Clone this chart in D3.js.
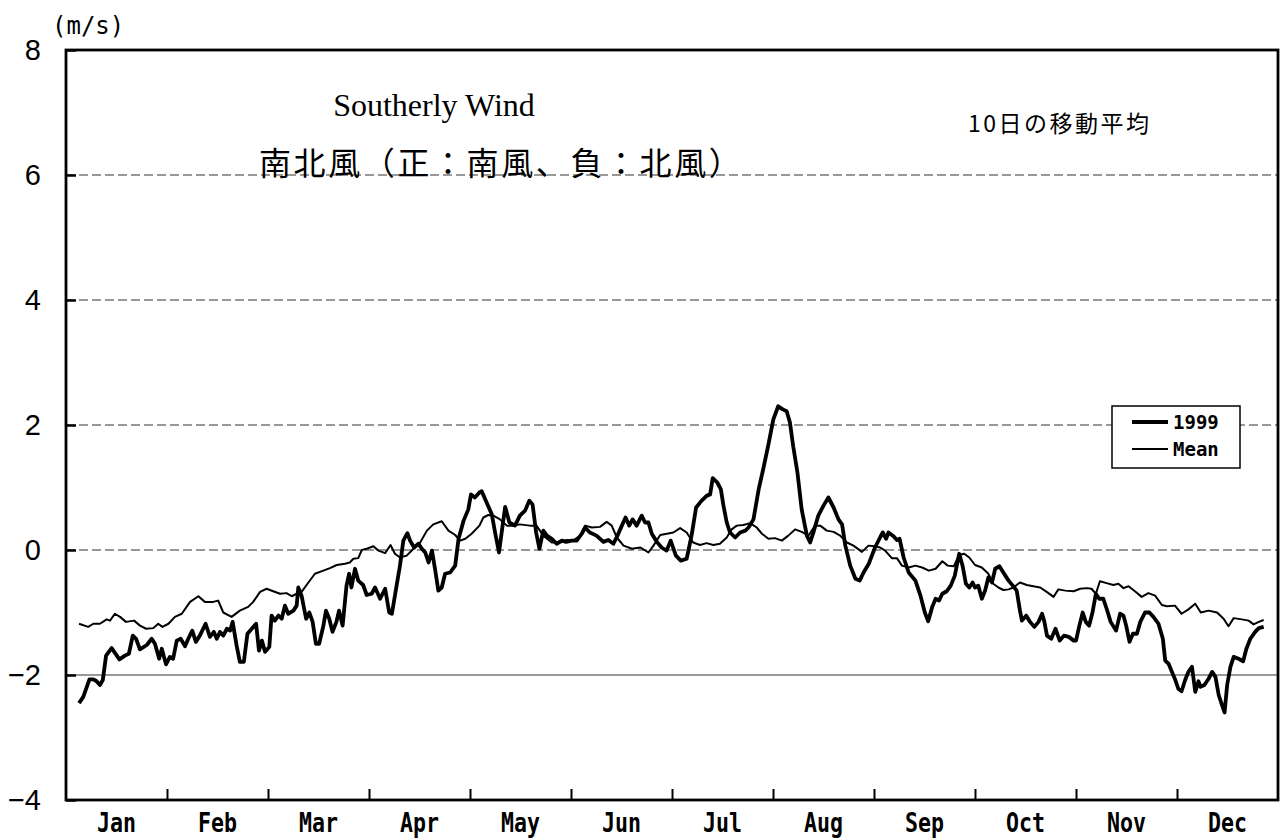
<!DOCTYPE html>
<html>
<head>
<meta charset="utf-8">
<script src="https://cdn.jsdelivr.net/npm/d3@7"></script>
<style>
  body { margin: 0; background: #fff; }
  svg { display: block; }
</style>
</head>
<body>
<div id="chart"></div>
<script>
// Southerly wind, 10-day running mean: 1999 vs. climatological mean
const months = ['Jan', 'Feb', 'Mar', 'Apr', 'May', 'Jun', 'Jul', 'Aug', 'Sep', 'Oct', 'Nov', 'Dec'];
const monthStarts = [0, 31, 59, 90, 120, 151, 181, 212, 243, 273, 304, 334, 365];
const yTicks = [-4, -2, 0, 2, 4, 6, 8];
const dashedLevels = [0, 2, 4, 6];
const solidLevels = [-2];

const days1999 = [4.0,5.3,7.2,8.4,9.4,10.4,11.3,12.3,14.0,16.4,18.1,19.3,20.5,21.5,22.7,24.8,26.3,27.3,28.6,29.4,30.7,31.8,32.7,33.7,34.8,36.0,36.9,38.0,39.0,40.1,41.7,42.9,44.0,44.8,45.7,46.6,47.6,48.5,49.2,50.3,51.2,52.3,53.3,54.5,55.7,56.5,57.3,58.2,59.4,60.1,61.1,62.2,63.2,64.2,65.2,66.8,67.8,68.3,69.3,70.7,71.7,72.7,73.7,74.7,76.0,76.8,77.8,78.8,80.0,80.8,81.9,83.1,83.9,84.6,85.7,86.7,88.2,89.3,90.8,91.8,93.3,94.8,96.0,96.8,98.2,99.2,100.2,101.4,102.2,103.4,104.7,105.7,106.7,107.7,108.7,109.6,110.6,111.6,112.6,114.1,115.6,116.6,118.1,119.5,120.3,121.5,122.9,123.6,125.1,126.7,127.7,128.9,130.0,130.8,132.1,133.8,135.3,136.9,138.2,139.2,140.3,141.3,142.5,143.6,145.1,146.6,148.2,149.5,151.2,152.7,154.2,155.2,156.6,158.6,160.6,162.1,163.6,164.8,166.1,167.2,168.3,169.3,170.5,172.0,173.0,174.0,175.0,176.5,177.9,179.4,180.6,182.2,183.7,185.5,187.0,188.4,190.1,191.7,192.7,193.5,194.9,196.0,196.8,197.8,198.8,200.4,201.9,203.5,204.5,206.0,207.6,209.1,210.6,212.1,213.6,215.0,216.2,217.2,218.2,219.5,220.8,222.4,223.4,224.4,225.9,227.5,229.0,230.6,232.1,233.2,234.2,235.7,237.3,238.6,239.8,241.4,243.3,244.8,245.6,246.6,247.3,248.8,249.8,250.6,251.8,253.3,255.3,256.8,258.1,259.1,260.3,261.3,262.3,263.3,264.6,265.8,267.0,268.3,269.3,270.3,271.3,272.3,273.0,274.0,275.1,276.1,277.1,278.2,279.2,280.5,281.7,283.3,284.6,285.8,286.8,287.4,288.7,289.9,291.2,292.5,293.6,294.3,295.1,296.4,297.7,299.0,300.3,301.8,303.3,304.0,305.0,306.0,306.9,307.9,308.9,309.9,310.9,312.1,313.1,314.3,315.9,317.1,318.1,318.9,319.9,320.9,322.1,323.1,324.5,325.8,327.0,328.5,329.8,330.5,331.5,332.5,333.5,334.4,335.4,336.5,337.5,338.6,339.6,340.6,341.2,342.4,343.7,344.8,345.8,346.8,347.8,348.6,349.4,350.4,351.4,352.9,354.3,355.3,356.5,358.0,359.1,360.6];
const wind1999 = [-2.45,-2.35,-2.07,-2.07,-2.10,-2.16,-2.08,-1.69,-1.57,-1.75,-1.69,-1.66,-1.37,-1.42,-1.59,-1.52,-1.42,-1.50,-1.74,-1.58,-1.83,-1.71,-1.74,-1.45,-1.42,-1.54,-1.42,-1.29,-1.47,-1.37,-1.18,-1.39,-1.31,-1.42,-1.31,-1.37,-1.26,-1.29,-1.15,-1.53,-1.79,-1.79,-1.34,-1.26,-1.18,-1.61,-1.45,-1.63,-1.55,-1.05,-1.13,-1.05,-1.10,-0.89,-1.02,-0.97,-0.89,-0.60,-0.73,-1.10,-1.00,-1.15,-1.50,-1.50,-1.21,-0.97,-1.10,-1.31,-1.15,-0.97,-1.21,-0.57,-0.38,-0.60,-0.30,-0.49,-0.56,-0.72,-0.70,-0.60,-0.78,-0.62,-1.00,-1.02,-0.57,-0.25,0.15,0.27,0.15,0.04,0.10,0.02,-0.04,-0.20,-0.01,-0.30,-0.65,-0.60,-0.38,-0.36,-0.25,0.18,0.47,0.65,0.89,0.84,0.92,0.94,0.76,0.57,0.28,-0.04,0.39,0.69,0.44,0.39,0.55,0.63,0.79,0.73,0.28,0.02,0.31,0.23,0.18,0.10,0.15,0.13,0.15,0.15,0.26,0.36,0.28,0.23,0.13,0.16,0.10,0.23,0.39,0.52,0.39,0.49,0.39,0.55,0.44,0.44,0.26,0.13,0.04,-0.01,0.15,-0.09,-0.17,-0.14,0.23,0.68,0.79,0.87,0.89,1.15,1.08,0.97,0.71,0.44,0.28,0.20,0.28,0.31,0.36,0.49,0.97,1.32,1.69,2.09,2.30,2.25,2.22,2.04,1.66,1.24,0.65,0.23,0.12,0.28,0.55,0.71,0.84,0.68,0.49,0.41,0.07,-0.25,-0.46,-0.49,-0.36,-0.22,0.04,0.20,0.28,0.18,0.28,0.22,0.16,0.18,-0.12,-0.36,-0.49,-0.73,-1.00,-1.14,-0.91,-0.78,-0.81,-0.70,-0.66,-0.57,-0.41,-0.06,-0.25,-0.54,-0.60,-0.52,-0.60,-0.57,-0.78,-0.65,-0.44,-0.52,-0.30,-0.26,-0.36,-0.49,-0.57,-0.65,-0.97,-1.13,-1.05,-1.15,-1.23,-1.15,-1.02,-1.15,-1.37,-1.42,-1.26,-1.45,-1.37,-1.39,-1.45,-1.45,-1.21,-1.00,-1.15,-1.21,-1.00,-0.70,-0.78,-0.78,-0.94,-1.15,-1.29,-1.02,-1.05,-1.21,-1.47,-1.34,-1.34,-1.15,-1.00,-1.00,-1.07,-1.18,-1.42,-1.77,-1.82,-1.95,-2.08,-2.22,-2.26,-2.08,-1.95,-1.87,-2.27,-2.10,-2.19,-2.16,-2.06,-1.95,-2.03,-2.32,-2.48,-2.60,-2.16,-1.87,-1.71,-1.74,-1.78,-1.58,-1.42,-1.31,-1.25,-1.23];

const daysMean = [4.0,6.8,8.4,10.4,12.5,13.5,15.0,16.6,18.4,20.9,22.7,24.6,26.8,28.3,29.6,31.4,33.2,35.1,37.4,39.7,41.5,43.8,45.2,46.6,48.9,51.2,53.5,54.9,56.8,58.6,60.6,62.7,64.7,66.3,67.8,69.3,71.4,73.4,76.0,78.0,80.1,82.6,84.1,85.2,86.7,87.8,89.3,91.3,92.8,94.8,96.4,97.7,99.2,101.2,103.2,105.2,107.2,109.1,111.6,113.6,115.6,117.1,118.6,120.5,122.9,124.1,125.6,127.2,129.2,131.3,133.3,135.3,138.4,140.4,142.5,145.1,147.6,149.7,151.7,153.7,155.2,157.2,159.6,161.6,163.1,164.6,166.6,169.1,171.6,174.0,175.5,177.5,179.5,181.4,183.5,185.5,187.5,189.6,191.6,193.7,195.7,197.8,199.3,200.9,202.9,205.0,207.0,208.6,210.6,212.6,214.7,216.7,218.8,220.8,222.9,224.9,226.5,228.5,230.6,232.6,234.7,236.7,239.3,241.3,243.3,244.8,246.3,248.3,249.8,251.3,253.3,255.3,257.3,259.3,261.3,263.3,264.9,266.7,268.3,269.8,271.3,273.0,275.1,277.1,278.6,280.2,281.7,283.3,284.8,286.8,288.9,290.9,293.0,295.0,297.1,298.6,300.7,303.3,305.2,307.2,308.6,309.9,311.1,313.1,315.1,316.6,318.1,319.6,321.5,323.5,325.5,327.5,329.5,331.0,333.4,335.4,337.5,339.6,341.3,343.7,346.3,348.3,349.8,351.4,353.9,356.0,357.5,359.1,360.6];
const windMean = [-1.18,-1.23,-1.18,-1.18,-1.11,-1.13,-1.02,-1.07,-1.15,-1.13,-1.21,-1.26,-1.25,-1.18,-1.23,-1.18,-1.07,-1.02,-0.83,-0.74,-0.83,-0.83,-0.81,-1.00,-1.07,-0.97,-0.91,-0.83,-0.67,-0.62,-0.66,-0.70,-0.69,-0.74,-0.70,-0.67,-0.52,-0.38,-0.33,-0.29,-0.24,-0.22,-0.20,-0.14,-0.13,0.00,0.02,0.06,-0.01,-0.05,0.08,-0.06,-0.12,-0.09,0.02,0.12,0.31,0.41,0.46,0.31,0.24,0.15,0.18,0.26,0.39,0.52,0.56,0.55,0.49,0.39,0.39,0.41,0.39,0.39,0.23,0.12,0.12,0.16,0.15,0.23,0.39,0.36,0.37,0.45,0.39,0.20,0.07,0.02,0.04,-0.04,0.07,0.24,0.26,0.28,0.35,0.28,0.12,0.08,0.11,0.08,0.10,0.20,0.33,0.39,0.40,0.43,0.36,0.26,0.18,0.19,0.15,0.23,0.33,0.29,0.23,0.39,0.39,0.31,0.29,0.23,0.12,0.07,-0.03,0.07,0.06,0.04,-0.01,-0.13,-0.13,-0.25,-0.28,-0.25,-0.28,-0.33,-0.30,-0.18,-0.25,-0.26,-0.08,-0.06,-0.12,-0.24,-0.28,-0.38,-0.54,-0.60,-0.64,-0.63,-0.60,-0.52,-0.56,-0.58,-0.60,-0.67,-0.75,-0.63,-0.65,-0.66,-0.62,-0.61,-0.62,-0.70,-0.50,-0.53,-0.56,-0.54,-0.61,-0.58,-0.66,-0.75,-0.69,-0.73,-0.88,-0.90,-0.89,-1.02,-0.95,-0.86,-1.00,-0.97,-1.00,-1.10,-1.22,-1.09,-1.11,-1.13,-1.19,-1.15,-1.12];

const width = 1282, height = 839;
const margin = { left: 66, right: 4, top: 50, bottom: 39 };
const plotW = width - margin.left - margin.right;
const plotH = height - margin.top - margin.bottom;

const svg = d3.select('#chart').append('svg')
    .attr('width', width)
    .attr('height', height)
    .style('background', '#fff');

// months are drawn with equal width, so the day scale is piecewise linear
const x = d3.scaleLinear()
    .domain(monthStarts)
    .range(monthStarts.map((d, i) => margin.left + i * plotW / 12));
const y = d3.scaleLinear()
    .domain([-4, 8])
    .range([margin.top + plotH, margin.top]);

// ─── Grid ───
svg.append('g')
    .selectAll('line')
    .data(dashedLevels)
    .join('line')
    .attr('x1', margin.left).attr('x2', margin.left + plotW)
    .attr('y1', d => y(d)).attr('y2', d => y(d))
    .attr('stroke', '#333')
    .attr('stroke-width', 1.2)
    .attr('stroke-dasharray', '9,4');

svg.append('g')
    .selectAll('line')
    .data(solidLevels)
    .join('line')
    .attr('x1', margin.left).attr('x2', margin.left + plotW)
    .attr('y1', d => y(d)).attr('y2', d => y(d))
    .attr('stroke', '#333')
    .attr('stroke-width', 1.2);

// ─── Axes ───
const yAxis = svg.append('g')
    .attr('transform', `translate(${margin.left},0)`)
    .call(d3.axisRight(y).tickValues(yTicks).tickSize(10).tickFormat(''));
yAxis.select('.domain').remove();
yAxis.selectAll('line').attr('stroke', '#000').attr('stroke-width', 2.5);

svg.append('g')
    .selectAll('text')
    .data(yTicks)
    .join('text')
    .attr('x', 41)
    .attr('y', d => y(d))
    .attr('dy', '0.36em')
    .attr('text-anchor', 'end')
    .style('font-family', '"Liberation Sans", Arial, sans-serif')
    .style('font-size', '29px')
    .text(d => d < 0 ? '\u2212' + Math.abs(d) : d);

const xAxis = svg.append('g')
    .attr('transform', `translate(0,${margin.top + plotH})`)
    .call(d3.axisTop(x).tickValues(monthStarts.slice(1, 12)).tickSize(11).tickFormat(''));
xAxis.select('.domain').remove();
xAxis.selectAll('line').attr('stroke', '#000').attr('stroke-width', 2);

// condensed bold gothic month names
svg.append('g')
    .selectAll('text')
    .data(months)
    .join('text')
    .attr('transform', (d, i) =>
        `translate(${(x(monthStarts[i]) + x(monthStarts[i + 1])) / 2},${margin.top + plotH + 32}) scale(0.8,1)`)
    .attr('text-anchor', 'middle')
    .style('font-family', '"DejaVu Sans Mono", monospace')
    .style('font-weight', 'bold')
    .style('font-size', '27px')
    .text(d => d);

// frame
svg.append('rect')
    .attr('x', margin.left).attr('y', margin.top)
    .attr('width', plotW).attr('height', plotH)
    .attr('fill', 'none')
    .attr('stroke', '#000')
    .attr('stroke-width', 2.8);

svg.append('text')
    .attr('x', 52).attr('y', 34)
    .style('font-family', '"DejaVu Sans Mono", monospace')
    .style('font-size', '24px')
    .text('(m/s)');

// ─── Lines ───
const line = d3.line()
    .x(d => x(d[0]))
    .y(d => y(d[1]));

svg.append('path')
    .datum(daysMean.map((d, i) => [d, windMean[i]]))
    .attr('d', line)
    .attr('fill', 'none')
    .attr('stroke', '#000')
    .attr('stroke-width', 2)
    .attr('stroke-linejoin', 'round');

svg.append('path')
    .datum(days1999.map((d, i) => [d, wind1999[i]]))
    .attr('d', line)
    .attr('fill', 'none')
    .attr('stroke', '#000')
    .attr('stroke-width', 3.8)
    .attr('stroke-linejoin', 'round');

// ─── Titles ───
svg.append('text')
    .attr('x', 434).attr('y', 116)
    .attr('text-anchor', 'middle')
    .style('font-family', '"Liberation Serif", "Times New Roman", serif')
    .style('font-size', '32px')
    .text('Southerly Wind');

svg.append('text')
    .attr('x', 259).attr('y', 175)
    .style('font-family', '"Noto Sans CJK JP", sans-serif')
    .style('font-size', '32px')
    .style('letter-spacing', '2.6px')
    .text('南北風（正：南風、負：北風）');

svg.append('text')
    .attr('x', 968).attr('y', 132)
    .style('font-family', '"Noto Sans CJK JP", sans-serif')
    .style('font-size', '23px')
    .style('letter-spacing', '2.5px')
    .text('10日の移動平均');

// ─── Legend ───
const legend = [
    { label: '1999', width: 3.8 },
    { label: 'Mean', width: 2 },
];
const lg = svg.append('g').attr('transform', 'translate(1112,406)');
lg.append('rect')
    .attr('width', 128).attr('height', 62)
    .attr('fill', '#fff')
    .attr('stroke', '#000')
    .attr('stroke-width', 1.5);
const items = lg.selectAll('g')
    .data(legend)
    .join('g')
    .attr('transform', (d, i) => `translate(0,${16 + i * 27})`);
items.append('line')
    .attr('x1', 20).attr('x2', 56)
    .attr('stroke', '#000')
    .attr('stroke-width', d => d.width);
items.append('text')
    .attr('x', 61).attr('dy', '0.36em')
    .style('font-family', '"DejaVu Sans Mono", monospace')
    .style('font-weight', 'bold')
    .style('font-size', '19px')
    .text(d => d.label);
</script>
</body>
</html>
